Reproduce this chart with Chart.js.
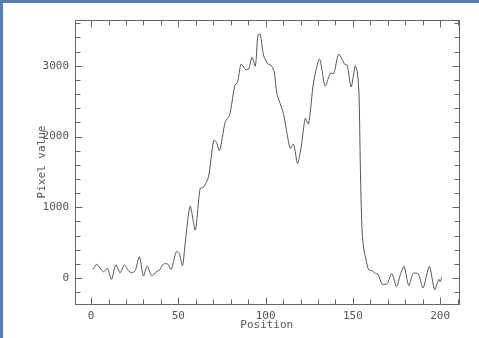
<!DOCTYPE html>
<html>
<head>
<meta charset="utf-8">
<script src="https://cdn.jsdelivr.net/npm/chart.js@4"></script>
<style>
  html, body { margin: 0; padding: 0; }
  body { width: 479px; height: 338px; background: #5b7fa9; position: relative; overflow: hidden; }
  #wrap { position: absolute; left: 3px; top: 3px; width: 476px; height: 335px; background: #fff; }
</style>
</head>
<body>
<div id="wrap"><canvas id="myChart" width="476" height="335"></canvas></div>
<script>
// profile samples
var positions = [1, 3.3, 7.1, 9.4, 11.7, 14.2, 16.6, 19, 21.4, 23.3, 25.3, 27.7, 30, 32.1, 34.8, 37.3, 39.2, 41.5, 43.8, 45.9,
    48.8, 50.5, 52.4, 54.1, 56.8, 59.7, 62.5, 64.4, 67.3, 70.2, 71.7, 73.6, 76.9, 79.4, 82.3, 84, 85.9, 88.4, 90.3, 92.2,
    94.1, 95.6, 96.9, 98.8, 101.3, 103, 104.9, 106.4, 108.3, 110.2, 112.1, 114.1, 116, 118.3, 120.4, 122.7, 124.6, 127.5, 130.9, 134.1,
    137.1, 139, 141.9, 145.2, 146.7, 149, 151.3, 152.5, 153.5, 154.4, 155.3, 156.3, 157.8, 159.1, 161, 162.9, 164.3, 166.8, 169.6, 172.3,
    175, 177.1, 179.3, 182, 184.6, 187.5, 190.2, 193.8, 196.8, 199.2, 200, 200.9];
var pixelValues = [122, 193, 89, 137, -19, 188, 75, 184, 104, 75, 104, 301, 28, 170, 28, 89, 113, 198, 198, 122,
    372, 349, 174, 537, 1017, 678, 1267, 1281, 1432, 1941, 1926, 1799, 2209, 2303, 2713, 2774, 3024, 2948, 2953, 3118,
    2996, 3434, 3448, 3151, 3024, 3010, 2915, 2609, 2468, 2327, 2068, 1832, 1893, 1620, 1856, 2256, 2176, 2774, 3095, 2713,
    2895, 2888, 3165, 3024, 3010, 2700, 3000, 2915, 2600, 1400, 650, 400, 230, 113, 103, 66, 57, -85, -80, 66,
    -123, 42, 165, -105, 66, 57, -140, 165, -165, -18, -52, 10];

var xTicks = [0, 50, 100, 150, 200];
var yTicks = [0, 1000, 2000, 3000];
var xMinorStep = 10;
var yMinorStep = 200;

var points = positions.map(function (x, i) { return { x: x, y: pixelValues[i] }; });

var ink = '#555';
var font = { family: 'DejaVu Sans Mono', size: 11 };

// box round the plot with inward ticks on every side
var frame = {
    id: 'frame',
    afterDraw: function (chart) {
        var c = chart.ctx, a = chart.chartArea;
        var xs = chart.scales.x, ys = chart.scales.y;
        var l = Math.round(a.left) + 0.5, r = Math.round(a.right) + 0.5;
        var t = Math.round(a.top) + 0.5, b = Math.round(a.bottom) + 0.5;
        c.save();
        c.strokeStyle = '#666';
        c.lineWidth = 1;
        c.strokeRect(l, t, r - l, b - t);
        c.beginPath();
        for (var v = 0; v <= xs.max; v += xMinorStep) {
            var px = Math.round(xs.getPixelForValue(v)) + 0.5;
            var len = xTicks.indexOf(v) >= 0 ? 7 : 5;
            c.moveTo(px, b); c.lineTo(px, b - len);
            c.moveTo(px, t); c.lineTo(px, t + len);
        }
        for (var w = -yMinorStep; w <= ys.max; w += yMinorStep) {
            if (w < ys.min) continue;
            var py = Math.round(ys.getPixelForValue(w)) + 0.5;
            var ln = yTicks.indexOf(w) >= 0 ? 7 : 5;
            c.moveTo(l, py); c.lineTo(l + ln, py);
            c.moveTo(r, py); c.lineTo(r - ln, py);
        }
        c.stroke();
        c.restore();
    }
};

var ctx = document.getElementById('myChart').getContext('2d');
var chart = new Chart(ctx, {
    type: 'scatter',
    data: {
        datasets: [{
            data: points,
            showLine: true,
            borderColor: '#555',
            borderWidth: 1,
            pointRadius: 0,
            tension: 0.25
        }]
    },
    options: {
        responsive: false,
        animation: false,
        layout: { padding: { top: 17, right: 20.5, left: 0, bottom: 0 } },
        plugins: { legend: { display: false }, tooltip: { enabled: false } },
        scales: {
            x: {
                type: 'linear',
                min: -9.2,
                max: 210.5,
                grid: { display: false, drawTicks: false },
                border: { display: false },
                afterBuildTicks: function (s) { s.ticks = xTicks.map(function (v) { return { value: v }; }); },
                afterFit: function (s) { s.height = 34; },
                ticks: { font: font, color: ink, padding: 6, maxRotation: 0, autoSkip: false,
                    callback: function (v) { return String(v); } },
                title: { display: true, text: 'Position', font: font, color: ink, padding: { top: 0, bottom: 6 } }
            },
            y: {
                min: -367,
                max: 3647,
                grid: { display: false, drawTicks: false },
                border: { display: false },
                afterBuildTicks: function (s) { s.ticks = yTicks.map(function (v) { return { value: v }; }); },
                afterFit: function (s) { s.width = 72; },
                ticks: { font: font, color: ink, padding: 6, autoSkip: false,
                    callback: function (v) { return String(v); } },
                title: { display: true, text: 'Pixel value', font: font, color: ink, padding: { top: 33, bottom: 0 } }
            }
        }
    },
    plugins: [frame]
});
</script>
</body>
</html>
